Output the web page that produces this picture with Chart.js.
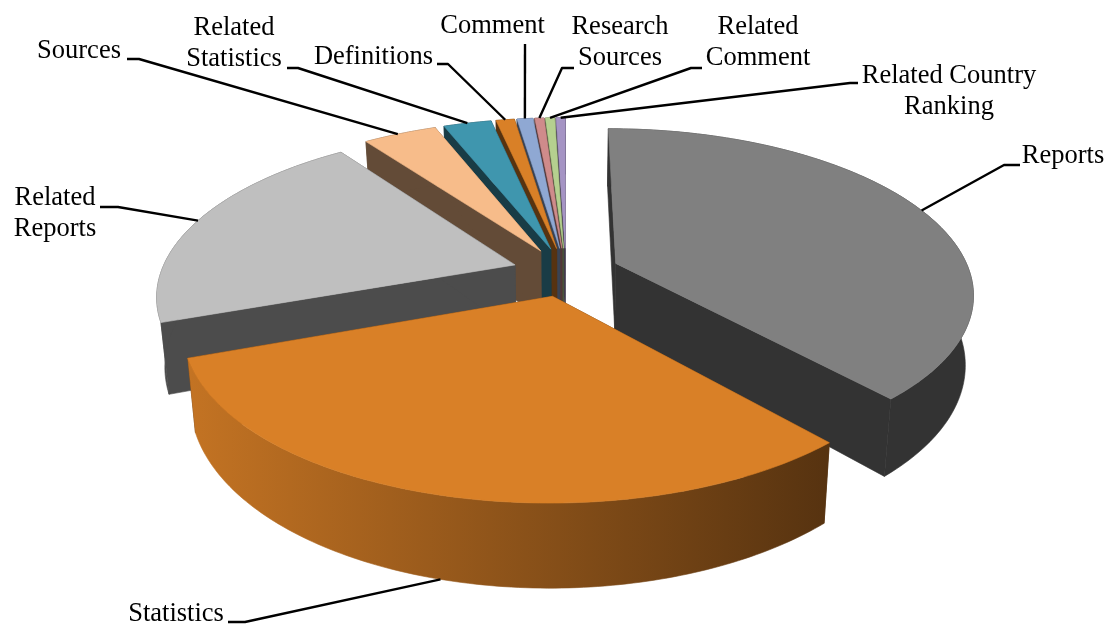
<!DOCTYPE html>
<html><head><meta charset="utf-8">
<style>html,body{margin:0;padding:0;background:#fff}canvas{display:block}</style>
<script src="https://cdn.jsdelivr.net/npm/chart.js@4/dist/chart.umd.min.js"></script>
</head><body><canvas id="c" width="1108" height="624"></canvas>
<script>
const categories = ['Reports','Statistics','Related\nReports','Sources','Related\nStatistics','Definitions','Comment','Research\nSources','Related\nComment','Related Country\nRanking'];
const shares = [38.43,31.01,20.6,4.0,2.6,1.0,0.86,0.5,0.5,0.5];
const topColours = ['#808080','#d98027','#bfbfbf','#f7bc8a','#3f96ae','#d98027','#8fa8d3','#cf8b8b','#b5d08f','#a594c4'];
const drawOrder = [9,8,7,6,5,4,3,2,0,1];

const view = {cx:566,cy:272,B:354,A:161,p:0.175,depth:68,shrink:0.02};
const wallShade = 0.4;
const lightLeft = 190, lightRight = 826;

const labelFont = '26.5px "Liberation Serif"';
const lineGap = 31;
// text centre x, first baseline y, elbow of the leader line, where along the slice it lands, and rim depth
const callouts = [
 {x:1063,y:163,stub:[[1020,165],[1004,165]],frac:0.5,z:0},
 {x:176,y:621,stub:[[228,622],[245,622]],frac:0.505,z:1},
 {x:55,y:205,stub:[[100,207],[118,207]],frac:0.5,z:0},
 {x:79,y:58,stub:[[127,59],[139,59]],frac:0.47,z:0},
 {x:234,y:35,stub:[[287,68],[298,68]],frac:0.5,z:0},
 {x:373.5,y:64,stub:[[437,64],[448,64]],frac:0.5,z:0},
 {x:492.5,y:33,stub:[[525,44]],frac:0.5,z:0},
 {x:620,y:34,stub:[[574,68],[562,68]],frac:0.5,z:0},
 {x:758,y:34,stub:[[702,68],[691,68]],frac:0.5,z:0},
 {x:949,y:83,stub:[[858,83],[850,83]],frac:0.5,z:0}
];

function project(u,v,z){
  const s = 1/(1-view.p*v), k = 1-view.shrink*z;
  return [view.cx+view.B*u*s*k, view.cy+view.A*v*s+view.depth*z*s];
}
function shade(hex,f){
  const n=parseInt(hex.slice(1),16);
  return 'rgb('+[(n>>16)&255,(n>>8)&255,n&255].map(c=>Math.round(c*f)).join(',')+')';
}
function sliceGeometry(el){
  const off = el.options.offset/el.outerRadius;
  const a0 = el.startAngle+Math.PI/2, a1 = el.endAngle+Math.PI/2;
  const mid = (a0+a1)/2;
  return {ou:off*Math.sin(mid), ov:-off*Math.cos(mid), a0, a1, mid};
}
function onRim(g,t,z){ return project(Math.sin(t)+g.ou,-Math.cos(t)+g.ov,z); }
function rim(g,z,rev){
  const n=Math.max(4,Math.ceil((g.a1-g.a0)*60)), pts=[];
  for(let i=0;i<=n;i++) pts.push(onRim(g,g.a0+(g.a1-g.a0)*(rev?n-i:i)/n,z));
  return pts;
}
function fillPoly(ctx,pts,fill){
  ctx.beginPath();
  pts.forEach((p,i)=>i?ctx.lineTo(p[0],p[1]):ctx.moveTo(p[0],p[1]));
  ctx.closePath();
  ctx.fillStyle=fill;ctx.fill();
  ctx.strokeStyle=fill;ctx.lineWidth=0.6;ctx.stroke();
}
const pie3d = {
  id:'pie3d',
  beforeDatasetsDraw(chart){
    const ctx=chart.ctx, arcs=chart.getDatasetMeta(0).data;
    const colours=chart.data.datasets[0].backgroundColor;
    ctx.save();
    drawOrder.forEach(i=>{
      const g=sliceGeometry(arcs[i]), col=colours[i];
      const dark=shade(col,wallShade);
      const a=project(g.ou,g.ov,0), b=project(g.ou,g.ov,1);
      const top=rim(g,0,false), bot=rim(g,1,true);
      fillPoly(ctx,[a,top[0],bot[bot.length-1],b],dark);
      fillPoly(ctx,[a,top[top.length-1],bot[0],b],dark);
      let wall=dark;
      if(Math.cos(g.mid)<0){
        wall=ctx.createLinearGradient(lightLeft,0,lightRight,0);
        wall.addColorStop(0,shade(col,0.9));
        wall.addColorStop(1,shade(col,wallShade));
      }
      fillPoly(ctx,top.concat(bot),wall);
      fillPoly(ctx,[a].concat(top),col);
    });
    ctx.strokeStyle='#000';ctx.lineWidth=2.4;ctx.lineJoin='round';
    callouts.forEach((c,i)=>{
      const g=sliceGeometry(arcs[i]);
      const end=onRim(g,g.a0+(g.a1-g.a0)*c.frac,c.z);
      ctx.beginPath();
      c.stub.forEach((p,j)=>j?ctx.lineTo(p[0],p[1]):ctx.moveTo(p[0],p[1]));
      ctx.lineTo(end[0],end[1]);ctx.stroke();
      ctx.font=labelFont;ctx.fillStyle='#000';ctx.textAlign='center';ctx.textBaseline='alphabetic';
      chart.data.labels[i].split('\n').forEach((t2,j)=>ctx.fillText(t2,c.x,c.y+j*lineGap));
    });
    ctx.restore();
    return false;
  }
};
new Chart(document.getElementById('c'),{
  type:'pie',
  data:{labels:categories,datasets:[{data:shares,backgroundColor:topColours,borderWidth:0,offset:44}]},
  options:{responsive:false,animation:false,rotation:0,
    plugins:{legend:{display:false},tooltip:{enabled:false},title:{display:false}}},
  plugins:[pie3d]
});
</script></body></html>
